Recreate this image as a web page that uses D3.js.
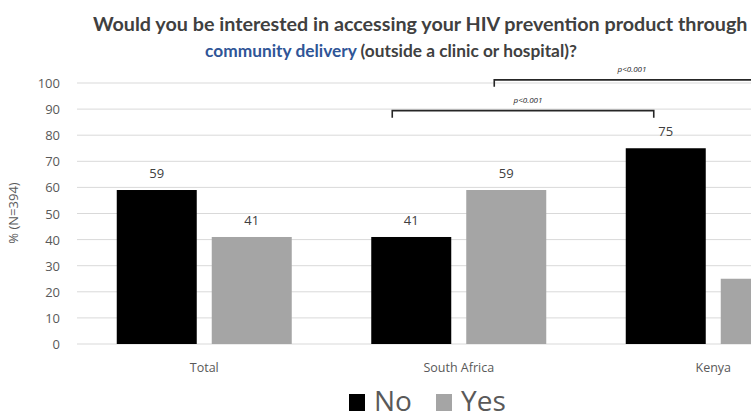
<!DOCTYPE html>
<html><head><meta charset="utf-8">
<script src="https://cdn.jsdelivr.net/npm/d3@7"></script>
<style>body{margin:0;background:#fff;overflow:hidden}svg{display:block}</style>
</head><body>
<svg id="c" width="751" height="412"></svg>
<script>
const categories = ["Total", "South Africa", "Kenya"];
const seriesNames = ["No", "Yes"];
const noValues = [59, 41, 75];
const yesValues = [41, 59, 25];
const yTicks = [0,10,20,30,40,50,60,70,80,90,100];
const pLabels = ["p<0.001", "p<0.001"];

const colors = {No: "#000000", Yes: "#a5a5a5"};
const svg = d3.select("#c");
const step = 254.5, left = 77;
const x0 = d3.scaleBand().domain(categories).range([left, left + step*categories.length]).padding(0);
const x1 = d3.scaleBand().domain(seriesNames).range([39.75, 214.75]).paddingInner(2 - 175/95).paddingOuter(0);
const y = d3.scaleLinear().domain([0,100]).range([344, 83]);

// gridlines
svg.append("g").selectAll("line").data(yTicks).join("line")
  .attr("x1", left).attr("x2", 751)
  .attr("y1", d => y(d)).attr("y2", d => y(d))
  .attr("stroke", "#d9d9d9").attr("stroke-width", 1);

// y axis labels
const yAxis = d3.axisLeft(y).tickValues(yTicks).tickSize(0).tickPadding(0);
const ga = svg.append("g").attr("transform", "translate(60,0)").call(yAxis);
ga.select(".domain").remove();
ga.selectAll("text").attr("font-family", "Open Sans").attr("font-size", 13).attr("fill", "#595959").attr("dy", "0.35em");

svg.append("text").attr("transform", "translate(18,213) rotate(-90)")
  .attr("text-anchor", "middle").attr("font-family", "Open Sans").attr("font-size", 13).attr("fill", "#595959")
  .text("% (N=394)");

// bars
const data = categories.map((c,i) => ({cat:c, vals:[{s:"No", v:noValues[i]}, {s:"Yes", v:yesValues[i]}]}));
const g = svg.append("g").selectAll("g").data(data).join("g").attr("transform", d => `translate(${x0(d.cat)},0)`);
g.selectAll("rect").data(d => d.vals).join("rect")
  .attr("x", d => x1(d.s)).attr("width", x1.bandwidth())
  .attr("y", d => y(d.v)).attr("height", d => y(0) - y(d.v))
  .attr("fill", d => colors[d.s]);
g.selectAll("text").data(d => d.vals).join("text")
  .attr("x", d => x1(d.s) + x1.bandwidth()/2).attr("y", d => y(d.v) - 12)
  .attr("text-anchor", "middle").attr("font-family", "Open Sans").attr("font-size", 13).attr("fill", "#404040")
  .text(d => d.v);

// category axis labels
const xAxis = d3.axisBottom(x0).tickSize(0).tickPadding(0);
const gx = svg.append("g").attr("transform", "translate(0,372)").call(xAxis);
gx.select(".domain").remove();
gx.selectAll("text").attr("font-family", "Open Sans").attr("font-size", 12.5).attr("fill", "#595959").attr("dy", 0);

// significance brackets
function bracket(xa, xb, yv, label, lx) {
  const yy = y(yv);
  svg.append("path").attr("d", `M${xa},${yy+7}V${yy}H${xb}V${yy+7}`)
    .attr("fill", "none").attr("stroke", "#262626").attr("stroke-width", 1.6);
  svg.append("text").attr("x", lx).attr("y", yy - 8).attr("text-anchor", "middle")
    .attr("font-family", "Open Sans").attr("font-style", "italic").attr("font-size", 8).attr("fill", "#262626")
    .text(label);
}
bracket(x0("South Africa") + x1("No") + 21, x0("Kenya") + x1("No") + 28, 89.4, pLabels[0], 528);
bracket(x0("South Africa") + x1("Yes") + 28, 800, 101.2, pLabels[1], 632);

// title
const t1 = svg.append("text").attr("x", 93).attr("y", 31).attr("font-family", "Lato").attr("font-weight", 700)
  .attr("font-size", 17).attr("fill", "#404040")
  .text("Would you be interested in accessing your HIV prevention product through");
const t2 = svg.append("text").attr("x", 391).attr("y", 57).attr("text-anchor", "middle").attr("font-family", "Lato").attr("font-weight", 700)
  .attr("font-size", 17).attr("fill", "#404040");
t2.append("tspan").attr("fill", "#2f5597").text("community delivery");
t2.append("tspan").text(" (outside a clinic or hospital)?");
function fit(t, w) { const l = t.node().getComputedTextLength(); t.attr("font-size", 17 * w / l); }
fit(t1, 655); fit(t2, 372);

// legend
const lg = svg.append("g");
const legendX = {No: 349, Yes: 436};
seriesNames.forEach(s => {
  lg.append("rect").attr("x", legendX[s]).attr("y", 394).attr("width", 16).attr("height", 17).attr("fill", colors[s]);
  lg.append("text").attr("x", legendX[s] + 25).attr("y", 411).attr("font-family", "Open Sans").attr("font-size", 28).attr("fill", "#595959").text(s);
});
</script>
</body></html>
